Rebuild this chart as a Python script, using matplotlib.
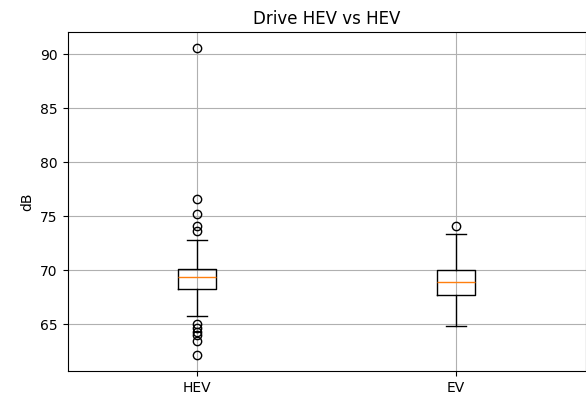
import matplotlib
matplotlib.use("Agg")
import matplotlib.pyplot as plt

labels = ["HEV", "EV"]
q1 = [68.27, 67.7]
med = [69.4, 68.9]
q3 = [70.1, 70.0]
whislo = [65.7, 64.8]
whishi = [72.8, 73.33]
hev_fliers = [90.6, 76.6, 75.15, 74.05, 73.65, 65.0, 64.6, 64.25, 64.0, 63.45, 62.1]
ev_fliers = [74.07]

stats = []
fl = [hev_fliers, ev_fliers]
for i, lab in enumerate(labels):
    stats.append(dict(label=lab, q1=q1[i], med=med[i], q3=q3[i],
                      whislo=whislo[i], whishi=whishi[i], fliers=fl[i]))

fig = plt.figure(figsize=(5.86, 3.97), dpi=100)
ax = fig.add_axes([67.5/586, 1 - 371/397, (585.5 - 67.5)/586, (371 - 32)/397])
ax.bxp(stats)
ax.set_xlim(0.5, 2.5)
ax.set_ylim(60.65, 92.05)
ax.set_yticks([65, 70, 75, 80, 85, 90])
ax.grid(True)
ax.set_title("Drive HEV vs HEV")
ax.set_ylabel("dB")
fig.savefig("out.png", dpi=100)
